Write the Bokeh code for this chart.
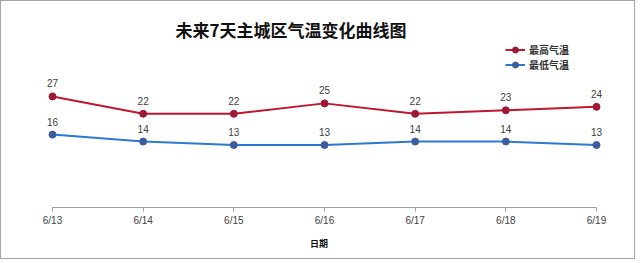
from bokeh.plotting import figure
from bokeh.models import Range1d, FixedTicker, Legend, LegendItem, ColumnDataSource
from bokeh.core.properties import value
from bokeh.embed import file_html
from bokeh.resources import INLINE

dates = ["6/13", "6/14", "6/15", "6/16", "6/17", "6/18", "6/19"]
high = [27, 22, 22, 25, 22, 23, 24]
low = [16, 14, 13, 13, 14, 14, 13]
title_text = "未来7天主城区气温变化曲线图"
x_label = "日期"
high_name = "最高气温"
low_name = "最低气温"

idx = list(range(len(dates)))

p = figure(width=635, height=259, output_backend="svg", toolbar_location=None,
           x_range=Range1d(-0.5625, 6.441), y_range=Range1d(-5, 43.98),
           min_border_left=0, min_border_right=0, min_border_top=36, min_border_bottom=53,
           title=title_text)
p.styles = {"border": "1px solid #A6A6A6"}
p.outline_line_color = None
p.grid.visible = False
p.yaxis.visible = False
p.background_fill_color = "white"
p.border_fill_color = "white"

p.title.align = "left"
p.title.offset = 174
p.title.standoff = -9
p.title.text_font = "Noto Sans CJK SC"
p.title.text_font_size = "17px"
p.title.text_font_style = "bold"
p.title.text_color = "#111111"

ax = p.xaxis[0]
ax.ticker = FixedTicker(ticks=idx)
ax.major_label_overrides = {i: d for i, d in zip(idx, dates)}
ax.bounds = (0, len(dates) - 1)
ax.axis_line_color = "#A0A0A0"
ax.major_tick_line_color = "#A0A0A0"
ax.major_tick_out = 4
ax.major_tick_in = 0
ax.minor_tick_line_color = None
ax.major_label_text_font = "Liberation Sans"
ax.major_label_text_font_size = "10px"
ax.major_label_text_color = "#404040"
ax.major_label_standoff = 3
ax.axis_label = x_label
ax.axis_label_text_font = "Noto Sans CJK SC"
ax.axis_label_text_font_size = "9px"
ax.axis_label_text_font_style = "bold"
ax.axis_label_text_color = "#111111"
ax.axis_label_standoff = 8

src = ColumnDataSource(dict(x=idx, high=high, low=low,
                            hl=[str(v) for v in high], ll=[str(v) for v in low]))

r_hl = p.line("x", "high", source=src, line_color="#C0172F", line_width=2)
r_hc = p.scatter("x", "high", source=src, size=7, fill_color="#9E1A34", line_color="#9E1A34")
r_ll = p.line("x", "low", source=src, line_color="#2A7ACF", line_width=2)
r_lc = p.scatter("x", "low", source=src, size=7, fill_color="#3D5C9E", line_color="#3D5C9E")

for col, lab in (("high", "hl"), ("low", "ll")):
    p.text("x", col, text=lab, source=src, text_align="center", text_baseline="middle",
           y_offset=-13, text_font=value("Liberation Sans"), text_font_size="10px",
           text_color="#404040")

legend = Legend(items=[LegendItem(label=high_name, renderers=[r_hl, r_hc]),
                       LegendItem(label=low_name, renderers=[r_ll, r_lc])],
                location=(504, 135), orientation="vertical")
legend.glyph_width = 20
legend.glyph_height = 15
legend.label_height = 15
legend.spacing = 0
legend.padding = 0
legend.margin = 0
legend.label_standoff = 4
legend.border_line_color = None
legend.background_fill_alpha = 0
legend.label_text_font = "Noto Sans CJK SC"
legend.label_text_font_size = "10px"
legend.label_text_font_style = "bold"
legend.label_text_color = "#333333"
p.add_layout(legend)

open("out.html", "w").write(file_html(p, INLINE))
